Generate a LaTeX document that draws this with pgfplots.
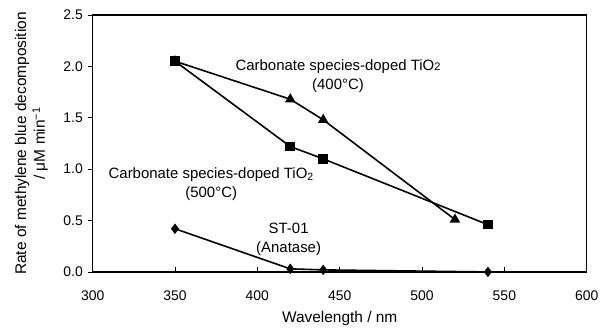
\documentclass[border=0pt]{standalone}
\usepackage{pgfplots}
\pgfplotsset{compat=1.18}
\usepackage{fontspec}
\setmainfont{Liberation Sans}
\begin{document}
\fontsize{14bp}{16bp}\selectfont
\begin{tikzpicture}
\begin{axis}[
  scale only axis,
  width=496bp, height=258bp,
  xmin=300, xmax=600, ymin=0, ymax=2.5,
  xtick={300,350,...,600},
  ytick={0,0.5,...,2.5},
  /pgf/number format/assume math mode=true,
  /pgf/number format/.cd, fixed, fixed zerofill, precision=1, /pgfplots/.cd,
  xticklabel style={/pgf/number format/precision=0, /pgf/number format/fixed zerofill=false},
  tick pos=left,
  tick align=inside,
  major tick length=5bp,
  y tick style={xshift=-5bp},
  tick style={black, line width=0.8bp},
  axis line style={line width=1.2bp},
  xticklabel style={yshift=-14bp},
  yticklabel style={xshift=-5bp},
  xlabel={Wavelength / nm},
  ylabel={Rate of methylene blue decomposition\\/ μM min\textsuperscript{−1}},
  ylabel style={align=center, yshift=6bp, font=\fontsize{15.5bp}{19bp}\selectfont},
  xlabel style={yshift=-1bp, font=\fontsize{15.5bp}{18bp}\selectfont},
  every axis plot/.append style={black, line width=1.6bp},
]
% 400 C, triangles
\addplot[mark=triangle*, mark size=4.5bp, mark options={solid}] coordinates {
 (350,2.05) (420,1.68) (440,1.48) (520,0.51)};
% 500 C, squares
\addplot[mark=square*, mark size=4bp] coordinates {
 (350,2.05) (420,1.22) (440,1.10) (540,0.46)};
% ST-01, diamonds
\addplot[mark=diamond*, mark size=4bp] coordinates {
 (350,0.42) (420,0.03) (440,0.02) (540,0.0)};
\node[font=\fontsize{15bp}{17bp}\selectfont] at (axis cs:449,2.0) {Carbonate species-doped TiO{\fontsize{11bp}{12bp}\selectfont 2}};
\node[font=\fontsize{15bp}{17bp}\selectfont] at (axis cs:449,1.81) {(400°C)};
\node[font=\fontsize{15bp}{17bp}\selectfont] at (axis cs:372,0.95) {Carbonate species-doped TiO\textsubscript{2}};
\node[font=\fontsize{15bp}{17bp}\selectfont] at (axis cs:372,0.76) {(500°C)};
\node[font=\fontsize{15bp}{17bp}\selectfont] at (axis cs:419,0.42) {ST-01};
\node[font=\fontsize{15bp}{17bp}\selectfont] at (axis cs:419,0.23) {(Anatase)};
\end{axis}
\path[use as bounding box] (current axis.south west) ++(-93bp,-55bp) rectangle ++(603bp,328bp);
\end{tikzpicture}
\end{document}
